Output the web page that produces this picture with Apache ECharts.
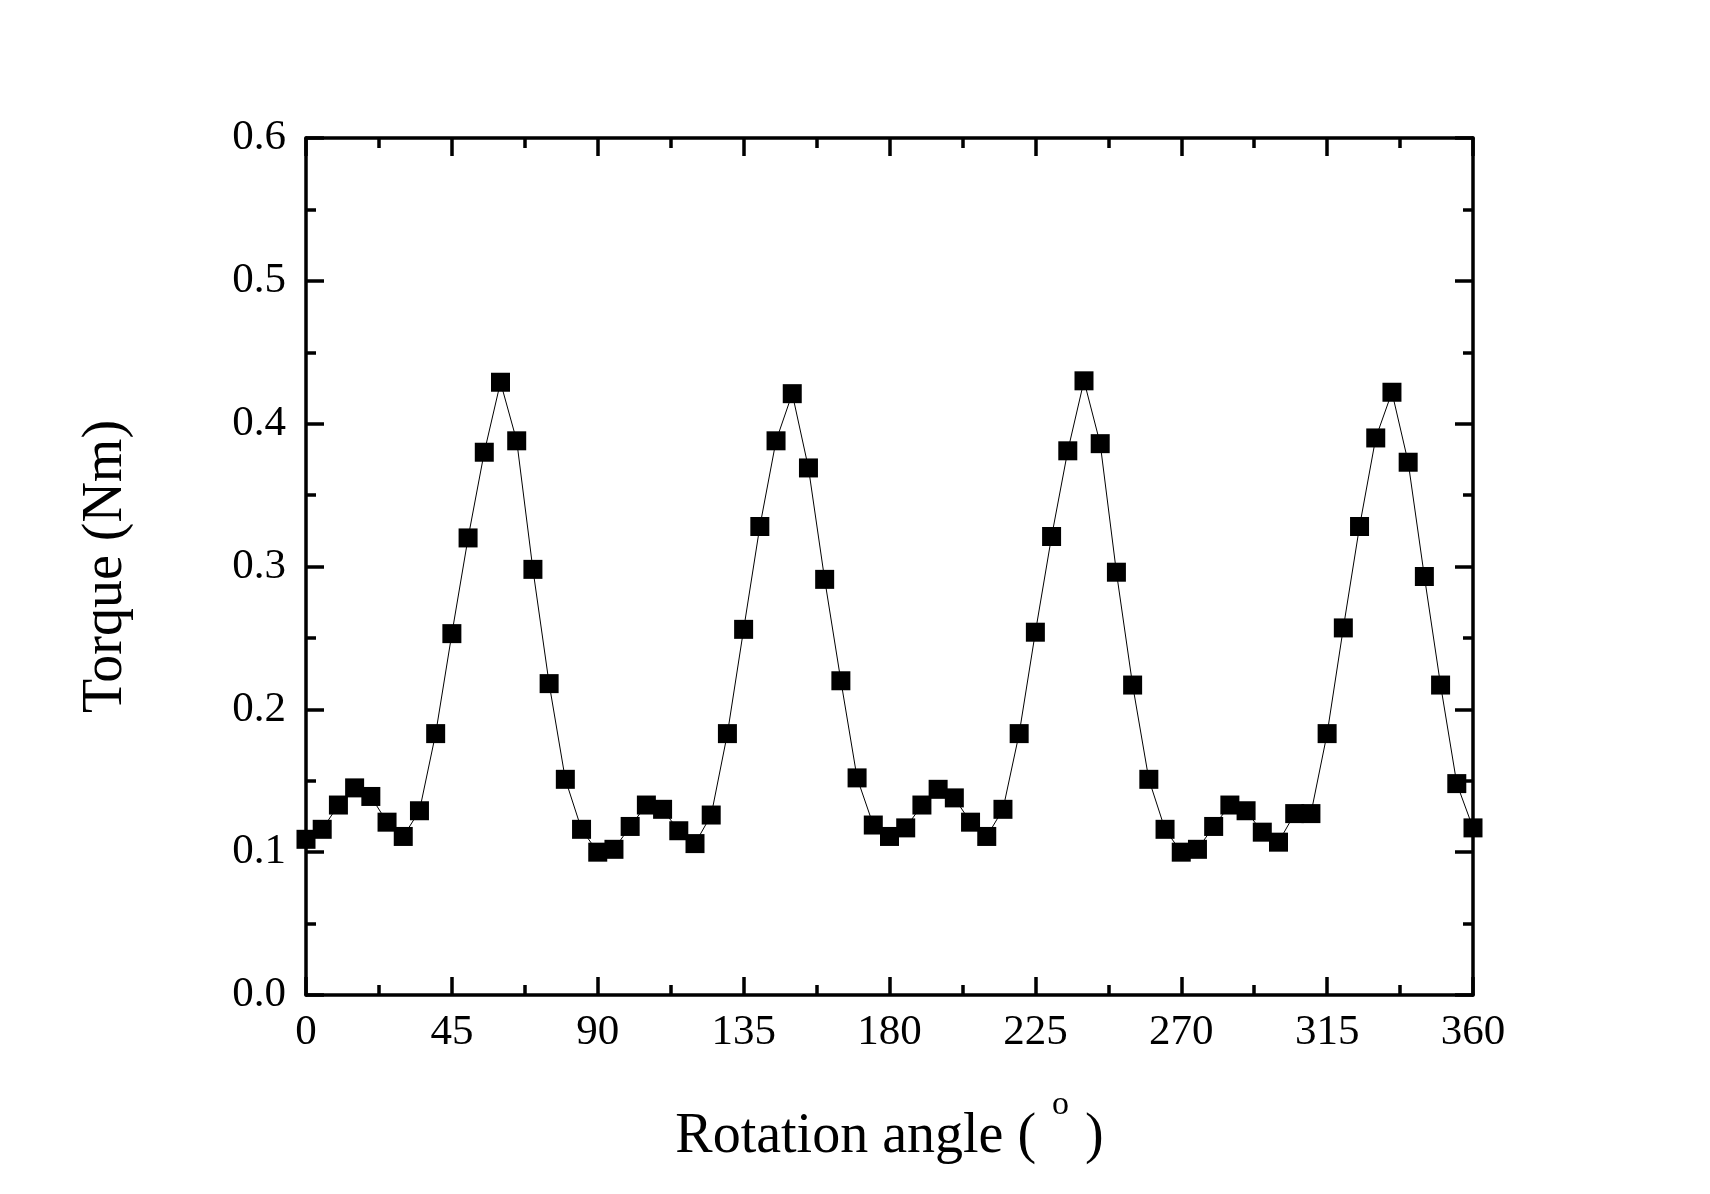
<!DOCTYPE html>
<html>
<head>
<meta charset="utf-8">
<script src="https://cdn.jsdelivr.net/npm/echarts@6/dist/echarts.min.js"></script>
<style>
html,body{margin:0;padding:0;background:#fff;}
#chart{width:1710px;height:1194px;}
</style>
</head>
<body>
<div id="chart"></div>
<script>
const angles = [0,5,10,15,20,25,30,35,40,45,50,55,60,65,70,75,80,85,90,95,100,105,110,115,120,125,130,135,140,145,150,155,160,165,170,175,180,185,190,195,200,205,210,215,220,225,230,235,240,245,250,255,260,265,270,275,280,285,290,295,300,305,310,315,320,325,330,335,340,345,350,355,360];
const torque = [0.109,0.116,0.133,0.145,0.139,0.121,0.111,0.129,0.183,0.253,0.320,0.380,0.429,0.388,0.298,0.218,0.151,0.116,0.100,0.102,0.118,0.133,0.130,0.115,0.106,0.126,0.183,0.256,0.328,0.388,0.421,0.369,0.291,0.220,0.152,0.119,0.111,0.117,0.133,0.144,0.138,0.121,0.111,0.130,0.183,0.254,0.321,0.381,0.430,0.386,0.296,0.217,0.151,0.116,0.100,0.102,0.118,0.133,0.129,0.114,0.107,0.127,0.127,0.183,0.257,0.328,0.390,0.422,0.373,0.293,0.217,0.148,0.117];
const xTicks = [0,45,90,135,180,225,270,315,360];
const yTicks = [0.0,0.1,0.2,0.3,0.4,0.5,0.6];
const xTitle = 'Rotation angle ( ';
const yTitle = 'Torque (Nm)';

const FONT = '"Liberation Serif", "Times New Roman", serif';
const lineStyle = {color:'#000', width:3.5};
const tickStyle = {color:'#000', width:3.5};

const chart = echarts.init(document.getElementById('chart'));
const baseX = {
  type:'value', min:0, max:360, interval:45,
  axisLine:{show:true, onZero:false, lineStyle:lineStyle},
  axisTick:{show:true, inside:true, length:18, lineStyle:tickStyle},
  minorTick:{show:true, splitNumber:2, length:10, lineStyle:tickStyle},
  splitLine:{show:false}
};
const baseY = {
  type:'value', min:0, max:0.6, interval:0.1,
  axisLine:{show:true, onZero:false, lineStyle:lineStyle},
  axisTick:{show:true, inside:true, length:18, lineStyle:tickStyle},
  minorTick:{show:true, splitNumber:2, length:10, lineStyle:tickStyle},
  splitLine:{show:false}
};
chart.setOption({
  backgroundColor:'#fff',
  animation:false,
  grid:{left:306, right:237, top:138, bottom:199, containLabel:false},
  xAxis:[
    Object.assign({}, baseX, {
      position:'bottom',
      axisLabel:{show:true, margin:16, color:'#000', fontFamily:FONT, fontSize:43,
        formatter:function(v){ return xTicks.indexOf(v) >= 0 ? String(v) : ''; }},
      name: '{t|' + xTitle + '}{s|o}{t| )}',
      nameLocation:'middle', nameGap:93,
      nameTextStyle:{
        rich:{
          t:{fontFamily:FONT, fontSize:56, color:'#000', lineHeight:98},
          s:{fontFamily:FONT, fontSize:34, color:'#000', verticalAlign:'top', lineHeight:34, padding:[0,2,0,2]}
        }
      }
    }),
    Object.assign({}, baseX, {position:'top', axisLabel:{show:false}})
  ],
  yAxis:[
    Object.assign({}, baseY, {
      position:'left',
      axisLabel:{show:true, margin:20, color:'#000', fontFamily:FONT, fontSize:43,
        formatter:function(v){ return v.toFixed(1); }},
      name:yTitle, nameLocation:'middle', nameGap:172,
      nameTextStyle:{fontFamily:FONT, fontSize:56, color:'#000'}
    }),
    Object.assign({}, baseY, {position:'right', axisLabel:{show:false}})
  ],
  series:[{
    type:'line',
    xAxisIndex:0, yAxisIndex:0,
    data: angles.map((a,i)=>[a, torque[i]]),
    symbol:'rect', symbolSize:19,
    itemStyle:{color:'#000'},
    lineStyle:{color:'#000', width:1},
    clip:true
  }]
});
</script>
</body>
</html>
